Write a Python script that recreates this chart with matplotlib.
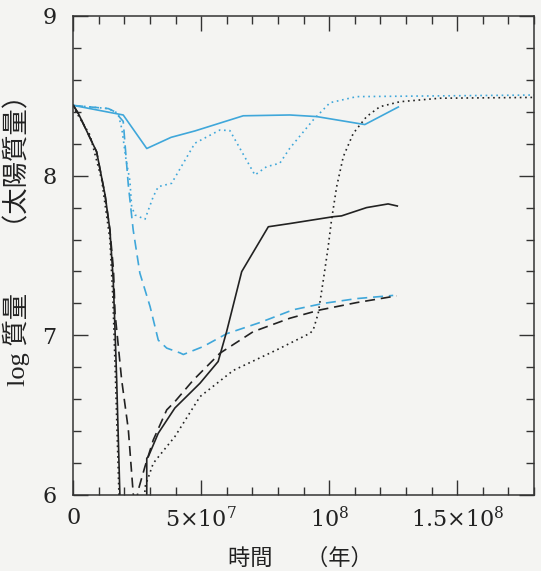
import matplotlib
matplotlib.use("Agg")
import matplotlib.pyplot as plt
from matplotlib.ticker import MultipleLocator, FixedLocator

# ---- data (time in units of 1e6 yr, log mass in solar masses) ----
cyan_solid_t = [0, 19.5, 28.7, 38.2, 47.5, 66.4, 84.6, 95.1, 113.9, 127.0]
cyan_solid_m = [8.44, 8.38, 8.17, 8.24, 8.28, 8.375, 8.38, 8.37, 8.32, 8.43]

cyan_dot_t = [0, 13.7, 17.5, 19.0, 20.6, 22.1, 22.8, 24.1, 28.0, 31.25, 33.2, 38.4,
              47.5, 57.3, 61.2, 70.96, 75.5, 80.7, 84.6, 93.75, 100.3, 110.7, 180.0]
cyan_dot_m = [8.44, 8.42, 8.39, 8.29, 8.10, 7.97, 7.806, 7.754, 7.727, 7.869, 7.931, 7.952,
              8.203, 8.286, 8.282, 8.004, 8.056, 8.078, 8.172, 8.349, 8.457, 8.495, 8.505]

cyan_dash_t = [0, 13.7, 16.3, 19.5, 21.5, 23.4, 26.0, 30.0, 33.2, 36.5, 41.7, 43.0,
               50.8, 59.9, 72.9, 85.9, 97.7, 110.7, 125.0]
cyan_dash_m = [8.44, 8.42, 8.40, 8.34, 7.94, 7.66, 7.39, 7.18, 6.97, 6.92, 6.89, 6.88,
               6.93, 7.01, 7.08, 7.16, 7.20, 7.23, 7.25]

black_solid_t = [0, 1.95, 9.1, 12.4, 14.3, 15.6, 16.3, 16.95, 18.2, 18.8, 28.7, 28.7,
                 29.3, 33.2, 39.7, 49.5, 56.6, 59.9, 65.8, 76.2, 84.6, 101.6, 104.8,
                 114.6, 123.0, 126.6]
black_solid_m = [8.44, 8.39, 8.15, 7.88, 7.66, 7.347, 7.034, 6.72, 6.0, 5.0, 5.0, 6.23,
                 6.24, 6.387, 6.545, 6.70, 6.836, 7.023, 7.399, 7.68, 7.70, 7.743, 7.748,
                 7.80, 7.823, 7.81]

black_dash_t = [0, 1.95, 9.1, 12.4, 14.3, 15.7, 16.3, 17.6, 18.9, 21.5, 23.4, 24.3,
                25.4, 28.0, 31.25, 36.5, 39.7, 46.9, 57.3, 70.3, 84.6, 96.4, 110.7, 126.3]
black_dash_m = [8.44, 8.39, 8.15, 7.88, 7.66, 7.41, 7.14, 6.93, 6.72, 6.41, 6.01, 5.93,
                6.032, 6.178, 6.345, 6.533, 6.585, 6.72, 6.888, 7.023, 7.107, 7.159, 7.205, 7.247]

black_dot_t = [0, 1.05, 6.5, 11.1, 14.3, 15.5, 16.5, 17.85, 18.5, 27.0, 28.0, 31.25,
               36.5, 39.7, 49.5, 62.5, 79.5, 92.5, 93.75, 95.7, 97.7, 99.6, 100.9, 102.9,
               105.5, 109.4, 114.6, 119.8, 127.6, 143.2, 180.0]
black_dot_m = [8.44, 8.40, 8.255, 7.973, 7.60, 7.22, 6.72, 6.0, 5.0, 5.0, 6.05, 6.199,
               6.303, 6.366, 6.616, 6.78, 6.909, 7.013, 7.034, 7.138, 7.347, 7.555, 7.723, 7.931,
               8.119, 8.265, 8.37, 8.432, 8.463, 8.485, 8.49]

xtick_vals = [0, 5e7, 1e8, 1.5e8]
xtick_labels = ["0", r"$5{\times}10^{7}$", r"$10^{8}$", r"$1.5{\times}10^{8}$"]
ytick_vals = [6, 7, 8, 9]
ytick_labels = ["6", "7", "8", "9"]
xlabel = "時間　  （年）"
ylabel = "log 質量　　（太陽質量）"

# ---- style ----
plt.rcParams["mathtext.fontset"] = "dejavuserif"
plt.rcParams["mathtext.default"] = "regular"
plt.rcParams["font.family"] = ["Liberation Serif", "Noto Sans CJK JP", "DejaVu Serif"]

bg = "#f4f4f2"
cyan = "#3fa7da"
black = "#222222"

fig = plt.figure(figsize=(5.41, 5.71), dpi=100, facecolor=bg)
ax = fig.add_axes([0.1355, 0.1331, 0.987 - 0.1355, 0.972 - 0.1331], facecolor=bg)

def yr(t):
    return [v * 1e6 for v in t]

lw = 1.2
ax.plot(yr(cyan_solid_t), cyan_solid_m, color=cyan, lw=lw, ls="-")
ax.plot(yr(cyan_dot_t), cyan_dot_m, color=cyan, lw=lw, ls=(0, (1, 2.2)))
ax.plot(yr(cyan_dash_t), cyan_dash_m, color=cyan, lw=lw, ls=(0, (6, 3.5)))
ax.plot(yr(black_solid_t), black_solid_m, color=black, lw=lw, ls="-")
ax.plot(yr(black_dash_t), black_dash_m, color=black, lw=lw, ls=(0, (6, 3.5)))
ax.plot(yr(black_dot_t), black_dot_m, color=black, lw=lw, ls=(0, (1, 2.2)))

ax.set_xlim(0, 1.8e8)
ax.set_ylim(6, 9)

ax.xaxis.set_major_locator(FixedLocator(xtick_vals))
ax.set_xticklabels(xtick_labels, family="DejaVu Serif")
ax.xaxis.set_minor_locator(MultipleLocator(1e7))
ax.yaxis.set_major_locator(FixedLocator(ytick_vals))
ax.set_yticklabels(ytick_labels, family="DejaVu Serif")
ax.yaxis.set_minor_locator(MultipleLocator(0.2))

ax.tick_params(which="both", direction="in", top=True, right=True, colors="#333333",
               labelcolor="#222222", labelsize=16)
ax.tick_params(which="major", length=11, width=1.0)
ax.tick_params(which="minor", length=6, width=1.0)
ax.tick_params(axis="y", which="major", pad=12)
ax.tick_params(axis="x", which="major", pad=9)

for s in ax.spines.values():
    s.set_color("#333333")
    s.set_linewidth(1.1)

ax.set_xlabel(xlabel, fontsize=16, color="#222222")
ax.set_ylabel(ylabel, fontsize=19, color="#222222")
ax.xaxis.set_label_coords(0.492, -0.112)
ax.yaxis.set_label_coords(-0.093, 0.545)

fig.savefig("out.png", dpi=100, facecolor=bg)
